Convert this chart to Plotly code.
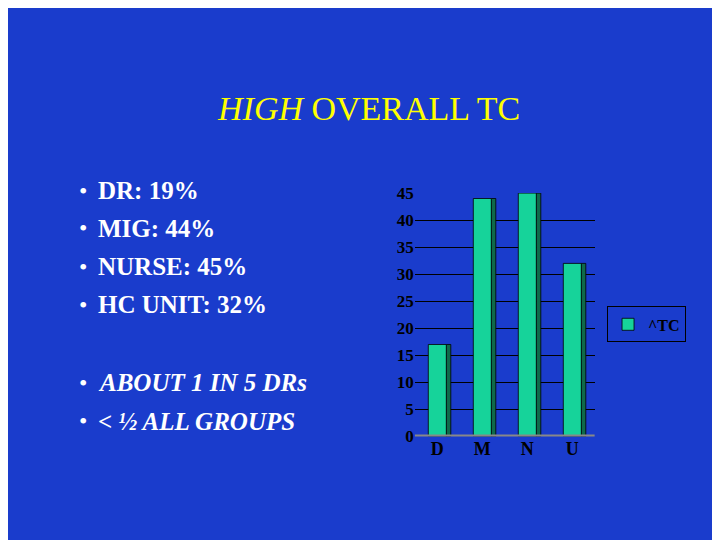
import plotly.graph_objects as go

categories = ["D", "M", "N", "U"]
values = [17, 44, 45, 32]
series_name = "^TC"
bullets_top = ["DR: 19%", "MIG: 44%", "NURSE: 45%", "HC UNIT: 32%"]
bullets_bottom = ["ABOUT 1 IN 5 DRs", "< ½ ALL GROUPS"]

BG = "#1a3ccc"
FONT = "Liberation Serif"

fig = go.Figure()
# darker side face for the pseudo-3D look
fig.add_trace(go.Bar(x=categories, y=values, width=0.1, offset=0.2,
                     marker=dict(color="#0f6a4a", line=dict(color="#000", width=0.8)),
                     showlegend=False, hoverinfo="skip"))
fig.add_trace(go.Bar(x=categories, y=values, width=0.4, offset=-0.2, name="<b>" + series_name + "</b>",
                     marker=dict(color="#16d39a", line=dict(color="#000", width=0.8))))

fig.update_layout(
    width=720, height=540, paper_bgcolor=BG, plot_bgcolor=BG,
    margin=dict(l=0, r=0, t=0, b=0), barmode="overlay",
    font=dict(family=FONT, color="black"),
    xaxis=dict(domain=[0.565, 0.815], showline=False, showgrid=False, range=[-0.5, 3.5],
               tickvals=categories, ticktext=["<b>%s</b>" % c for c in categories],
               tickfont=dict(size=18, family=FONT, color="black")),
    yaxis=dict(domain=[0.195, 0.662], range=[0, 45], dtick=5, showgrid=True,
               gridcolor="black", gridwidth=1, zeroline=False, showline=False,
               tickfont=dict(size=17, family=FONT, color="black"), ticks="",
               tickprefix="<b>", ticksuffix="</b>"),
    legend=dict(x=0.832, y=0.41, xanchor="left", yanchor="middle",
                bordercolor="black", borderwidth=1, bgcolor=BG,
                font=dict(size=16, family=FONT, color="black")),
    shapes=[dict(type="line", xref="x", yref="y", x0=-0.5, x1=3.5, y0=0, y1=0,
                 line=dict(color="#888", width=4))],
)

fig.add_annotation(text="<i>HIGH</i> OVERALL TC", xref="paper", yref="paper",
                   x=0.5, y=1 - 95 / 540, showarrow=False, yanchor="middle",
                   font=dict(size=34, family=FONT, color="#ffff00"))


def bullet(txt, yp):
    fig.add_annotation(text="•", x=75 / 720, y=1 - yp / 540, xref="paper", yref="paper",
                       showarrow=False, xanchor="center", yanchor="middle",
                       font=dict(size=24, family=FONT, color="white"))
    fig.add_annotation(text=txt, x=88 / 720, y=1 - yp / 540, xref="paper", yref="paper",
                       showarrow=False, xanchor="left", yanchor="middle",
                       font=dict(size=25, family=FONT, color="white"))


for txt, yp in zip(bullets_top, [180, 219, 259, 298]):
    bullet("<b>" + txt + "</b>", yp)
for txt, yp in zip(bullets_bottom, [379, 419]):
    bullet("<b><i>" + txt + "</i></b>", yp)

fig.write_html("out.html")
